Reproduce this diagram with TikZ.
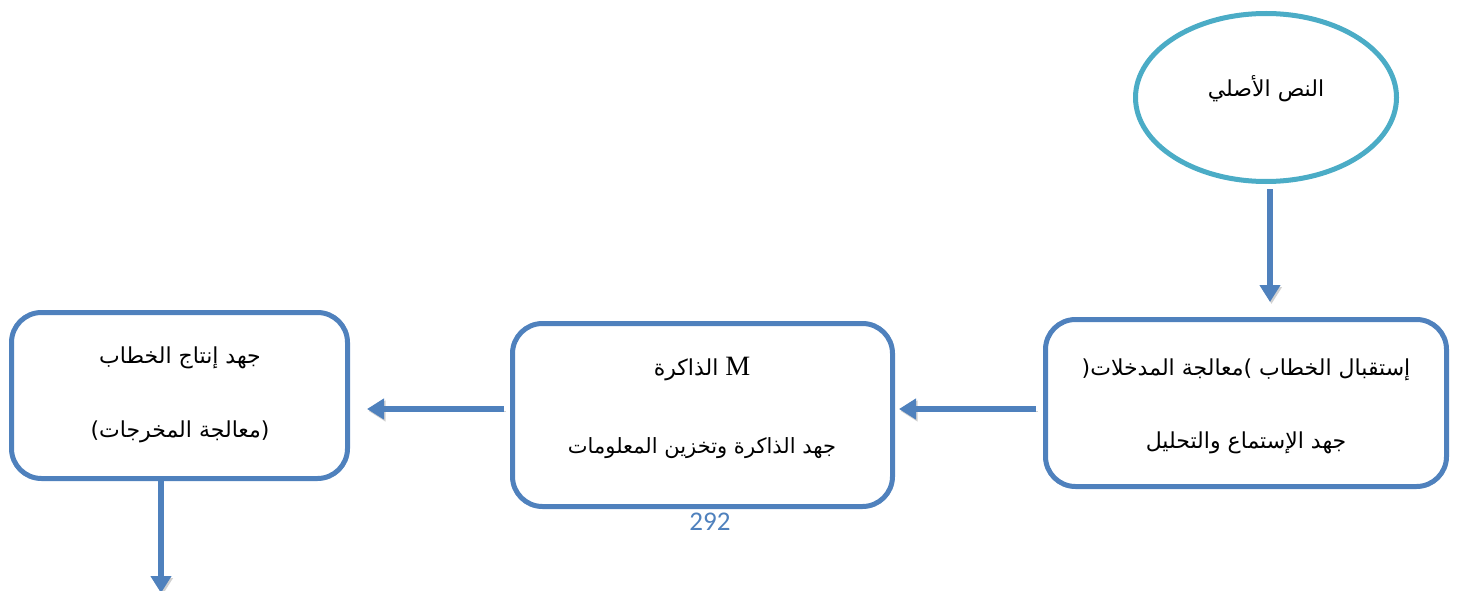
\documentclass[tikz,border=0pt]{standalone}
\usepackage{fontspec}
\usepackage{xcolor}
\usetikzlibrary{shapes.geometric,arrows.meta}
\TeXXeTstate=1
\newfontfamily\arabicfont[Script=Arabic]{DejaVu Sans}
\newfontfamily\latinserif{Liberation Serif}
\newfontfamily\pagefont{Carlito}
\newcommand{\artxt}[1]{{\arabicfont\beginR #1\endR}}
\definecolor{boxblue}{HTML}{4F81BD}
\definecolor{ovalteal}{HTML}{4BACC6}
\tikzset{
  stage/.style={draw=boxblue,line width=5pt,rounded corners=30pt,inner sep=0pt},
  source/.style={ellipse,draw=ovalteal,line width=5pt,inner sep=0pt,
    minimum width=261pt,minimum height=168pt},
  flow/.style={boxblue,line width=5.5pt,-{Triangle[length=17pt 0 0,width=20pt 0 0]},
    preaction={draw=black!18,transform canvas={xshift=1.5pt,yshift=-2pt}}},
  artext/.style={anchor=base,inner sep=0pt,font=\fontsize{22}{26}\selectfont},
}

\begin{document}
\begin{tikzpicture}[x=1pt,y=-1pt]
        \useasboundingbox (0,0) rectangle (1461,591);
        % source text
        \draw (1266,97.5) node[source](src) {};
        \draw (1266,97) node[artext](srcA) {\artxt{النص الأصلي}};
        % input stage
        \draw (1246,403) node[stage,minimum width=401pt,minimum height=167pt](recv) {};
        \draw (1246,375) node[artext](recvA) {\artxt{إستقبال الخطاب )معالجة المدخلات(}};
        \draw (1246,448) node[artext](recvB) {\artxt{جهد الإستماع والتحليل}};
        % memory stage
        \draw (702.5,415) node[stage,minimum width=380pt,minimum height=183pt](mem) {};
        \draw (702,375) node[artext](memA) {\artxt{{\latinserif\fontsize{28}{32}\selectfont M} الذاكرة}};
        \draw (702,453) node[artext,font=\fontsize{21}{25}\selectfont](memB) {\artxt{جهد الذاكرة وتخزين المعلومات}};
        % output stage
        \draw (179.5,395.5) node[stage,minimum width=336pt,minimum height=166pt](prod) {};
        \draw (180,363) node[artext](prodA) {\artxt{جهد إنتاج الخطاب}};
        \draw (180,437) node[artext](prodB) {\artxt{(معالجة المخرجات)}};
        \coordinate (out) at (161,593);
        % page number
        \draw (710,530) node[anchor=base,inner sep=0pt,text=boxblue,
          font=\pagefont\fontsize{27}{32}\selectfont](page) {292};
        % arrows
        \draw[flow,shorten <=5pt,shorten >=15pt] ([xshift=4pt]src.south) -- ([xshift=24pt]recv.north);
        \draw[flow,shorten <=7pt,shorten >=4pt] ([yshift=-6pt]recv.west) -- ([yshift=6pt]mem.east);
        \draw[flow,shorten <=6pt,shorten >=17pt] ([yshift=6pt]mem.west) -- ([yshift=-13.5pt]prod.east);
        \draw[flow] ([xshift=-18.5pt]prod.south) -- (out);
    \end{tikzpicture}
\end{document}
